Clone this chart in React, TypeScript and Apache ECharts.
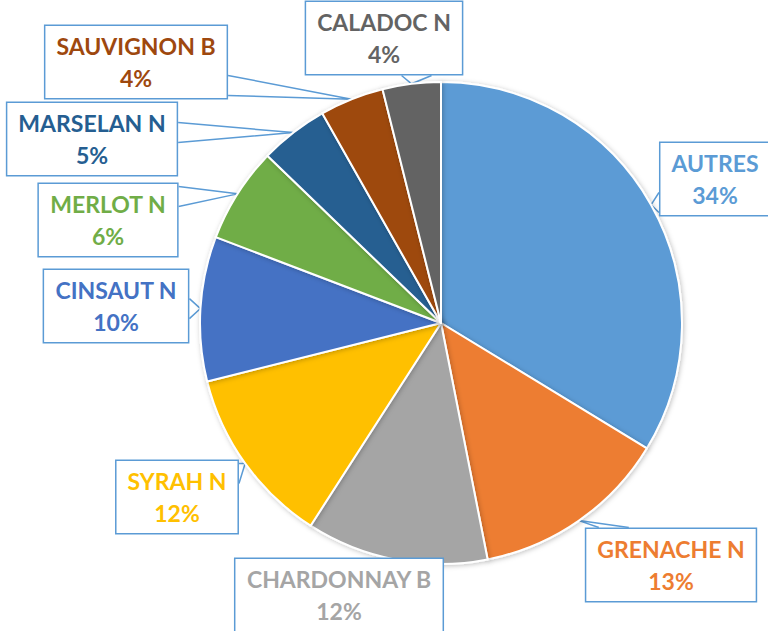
import React, { useEffect, useRef } from "react";
import * as echarts from "echarts";

const categories = [
  "AUTRES",
  "GRENACHE N",
  "CHARDONNAY B",
  "SYRAH N",
  "CINSAUT N",
  "MERLOT N",
  "MARSELAN N",
  "SAUVIGNON B",
  "CALADOC N",
];
const shares = [33.7, 13.2, 12.2, 12.0, 9.7, 6.4, 4.6, 4.3, 3.9];
const colors = [
  "#5B9BD5",
  "#ED7D31",
  "#A5A5A5",
  "#FFC000",
  "#4472C4",
  "#70AD47",
  "#255E91",
  "#9E480E",
  "#636363",
];
// label box centres (layout only)
const labelAnchors: [number, number][] = [
  [715, 179],
  [671, 565],
  [339, 595],
  [177, 497],
  [116, 306],
  [108, 220],
  [92, 139],
  [136, 62],
  [384, 38],
];

const BORDER = "#5B9BD5";

export default function App() {
  const ref = useRef<HTMLDivElement>(null);
  useEffect(() => {
    if (!ref.current) return;
    const chart = echarts.init(ref.current, null, { renderer: "svg" });
    const data = categories.map((name, i) => ({
      name,
      value: shares[i],
      itemStyle: { color: colors[i] },
      label: { color: colors[i] },
    }));
    chart.setOption({
      animation: false,
      backgroundColor: "#ffffff",
      series: [
        {
          type: "pie",
          center: [441, 323],
          radius: 241,
          startAngle: 90,
          clockwise: true,
          percentPrecision: 0,
          avoidLabelOverlap: false,
          emphasis: { disabled: true },
          itemStyle: {
            borderColor: "#ffffff",
            borderWidth: 2,
            shadowBlur: 5,
            shadowColor: "rgba(0,0,0,0.25)",
            shadowOffsetX: 1,
            shadowOffsetY: 1,
          },
          label: {
            show: true,
            position: "outside",
            formatter: "{b}\n{d}%",
            fontFamily: "Lato, 'Open Sans', sans-serif",
            fontWeight: "bold",
            fontSize: 23,
            lineHeight: 32,
            align: "center",
            backgroundColor: "#ffffff",
            borderColor: BORDER,
            borderWidth: 1.5,
            padding: [5, 11, 3, 11],
          },
          labelLine: {
            show: true,
            length: 10,
            length2: 10,
            lineStyle: { color: BORDER, width: 1.5 },
          },
          labelLayout: (params: any) => {
            const i = params.dataIndex;
            const [cx, cy] = labelAnchors[i];
            const w = params.labelRect.width;
            const h = params.labelRect.height;
            const x0 = cx - w / 2,
              x1 = cx + w / 2,
              y0 = cy - h / 2,
              y1 = cy + h / 2;
            const pts = params.labelLinePoints;
            let linePts: number[][] | undefined;
            if (pts && pts[0]) {
              const [tx, ty] = pts[0];
              const ox = tx < x0 ? x0 - tx : tx > x1 ? tx - x1 : 0;
              const oy = ty < y0 ? y0 - ty : ty > y1 ? ty - y1 : 0;
              const half = 10,
                m = 14;
              const clamp = (v: number, a: number, b: number) =>
                Math.max(a, Math.min(b, v));
              if (ox === 0 && oy === 0) {
                linePts = [
                  [tx, ty],
                  [tx, ty],
                ];
              } else if (ox > oy) {
                const ex = tx < x0 ? x0 : x1;
                const c = clamp(ty, y0 + m, y1 - m);
                linePts = [
                  [ex, c - half],
                  [tx, ty],
                  [ex, c + half],
                ];
              } else {
                const ey = ty < y0 ? y0 : y1;
                const c = clamp(tx, x0 + m + 10, x1 - m);
                linePts = [
                  [c - half, ey],
                  [tx, ty],
                  [c + half + 10, ey],
                ];
              }
            }
            return {
              x: cx,
              y: cy,
              align: "center",
              verticalAlign: "middle",
              labelLinePoints: linePts,
            };
          },
          data,
        },
      ],
    });
    return () => chart.dispose();
  }, []);
  return (
    <div
      ref={ref}
      style={{ position: "absolute", left: 0, top: 0, width: 768, height: 631 }}
    />
  );
}
